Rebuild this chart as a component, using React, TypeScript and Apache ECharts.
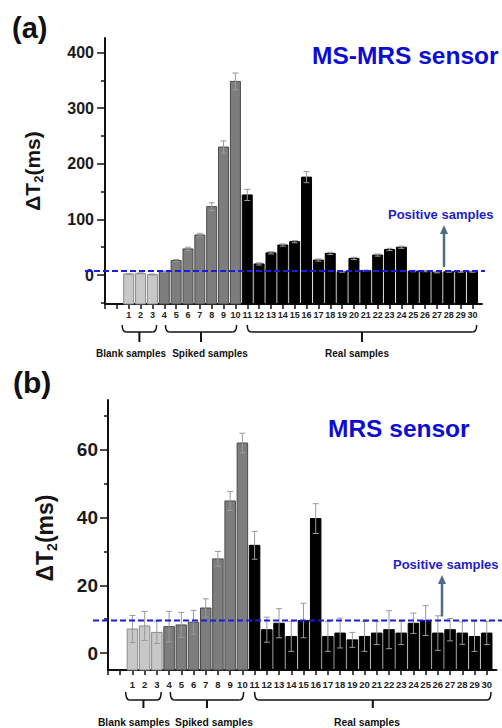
import React, { useEffect, useRef } from 'react';
import * as echarts from 'echarts';

// ---------- data ----------
const sampleLabels = ['1','2','3','4','5','6','7','8','9','10','11','12','13','14','15','16','17','18','19','20','21','22','23','24','25','26','27','28','29','30'];
const groupNames = ['Blank samples', 'Spiked samples', 'Real samples'];
const groupOf = [0,0,0,1,1,1,1,1,1,1,2,2,2,2,2,2,2,2,2,2,2,2,2,2,2,2,2,2,2,2];

// (a) MS-MRS sensor
const topValues = [2,3,1,6,26,47,72,123,230,348,144,20,40,54,60,176,27,39,6,30,8,36,46,50,7,7,5,6,6,6];
const topErrors = [1,1,1,1,2,3,3,7,11,15,10,2,2,2,2,10,2,2,1,2,1,2,2,2,1,1,1,1,1,1];
const topThreshold = 7.5;
const topYLabels = [0,100,200,300,400];
const topYMinor = [-50,50,150,250,350];

// (b) MRS sensor
const bottomValues = [7.1,8.0,6.1,7.8,8.3,9.1,13.3,27.8,44.9,62,31.8,6.9,8.8,4.9,9.6,39.7,4.9,5.9,3.9,4.9,5.9,6.9,5.9,8.8,9.6,5.9,6.9,5.9,4.9,5.9];
const bottomErrors = [4,4.3,3.3,4.5,3.7,3.5,2.7,2.2,2.8,2.9,4.1,3.7,4.3,4.4,5.1,4.4,4.4,4.4,2.2,4.4,3.4,5.6,3.4,3,4.4,5.1,3.3,3.3,4.4,3.4];
const bottomThreshold = 9.6;
const bottomYLabels = [0,20,40,60];
const bottomYMinor = [10,30,50,70];

const xTicks = [-1,0,1,2,3,4,5,6,7,8,9,10,11,12,13,14,15,16,17,18,19,20,21,22,23,24,25,26,27,28,29,30];
const xLabelValues = [1,2,3,4,5,6,7,8,9,10,11,12,13,14,15,16,17,18,19,20,21,22,23,24,25,26,27,28,29,30];

// ---------- styles ----------
const FONT = '"Liberation Sans", Arial, Helvetica, sans-serif';
const barStyles = [
  { fill: '#c8c8c8', stroke: '#8a8a8a' },
  { fill: '#7d7d7d', stroke: '#4a4a4a' },
  { fill: '#000000', stroke: '#000000' },
];
const ERR = '#9a9a9a';
const BLUE = '#1c1ce0';
const ARROW = '#4d6c8c';

const bracketSpans: [number, number][] = [[0.45, 3.35], [4.1, 10.1], [11, 30.35]];

function measure(text: string, size: number) {
  const c = document.createElement('canvas').getContext('2d')!;
  c.font = `bold ${size}px ${FONT}`;
  return c.measureText(text).width;
}

function makeRender(yMin: number, w: number) {
  return (params: any, api: any) => {
    const x = api.value(0);
    const v = api.value(1);
    const e = api.value(2);
    const g = api.value(3);
    const top = api.coord([x, v]);
    const base = api.coord([x, yMin]);
    const hi = api.coord([x, v + e]);
    const lo = api.coord([x, v - e]);
    const st = barStyles[g];
    const cap = 3;
    const ls = { stroke: ERR, lineWidth: 1 };
    return {
      type: 'group',
      children: [
        { type: 'rect', shape: { x: top[0] - w / 2, y: top[1], width: w, height: base[1] - top[1] }, style: { fill: st.fill, stroke: st.stroke, lineWidth: 1 } },
        { type: 'line', shape: { x1: top[0], y1: hi[1], x2: top[0], y2: lo[1] }, style: ls },
        { type: 'line', shape: { x1: top[0] - cap, y1: hi[1], x2: top[0] + cap, y2: hi[1] }, style: ls },
        { type: 'line', shape: { x1: top[0] - cap, y1: lo[1], x2: top[0] + cap, y2: lo[1] }, style: ls },
      ],
    };
  };
}

function yName(cx: number, cy: number, fs: number, sub: number) {
  const w1 = measure('ΔT', fs);
  const w2 = measure('2', sub);
  const w3 = measure('(ms)', fs);
  const total = w1 + w2 + w3;
  const base = { fontFamily: FONT, fontWeight: 'bold', fill: '#151515', verticalAlign: 'middle', align: 'left' };
  return {
    type: 'group', x: cx, y: cy + total / 2, rotation: Math.PI / 2, z: 100,
    children: [
      { type: 'text', x: 0, y: 0, style: { ...base, text: 'ΔT', fontSize: fs } },
      { type: 'text', x: w1, y: fs * 0.3, style: { ...base, text: '2', fontSize: sub } },
      { type: 'text', x: w1 + w2, y: 0, style: { ...base, text: '(ms)', fontSize: fs } },
    ],
  };
}

function txt(x: number, y: number, text: string, size: number, color: string, align = 'left') {
  return { type: 'text', x, y, z: 100, style: { text, fontSize: size, fontWeight: 'bold', fontFamily: FONT, fill: color, align, verticalAlign: 'middle' } };
}

function bracket(x1: number, x2: number, yTop: number, yMid: number, yBot: number) {
  const r = 4;
  const xc = (x1 + x2) / 2;
  const ls = { stroke: '#111', lineWidth: 1.5, fill: 'none' };
  return [
    { type: 'bezierCurve', z: 100, shape: { x1: x1, y1: yTop, cpx1: x1, cpy1: yMid, x2: x1 + r, y2: yMid }, style: ls },
    { type: 'line', z: 100, shape: { x1: x1 + r, y1: yMid, x2: x2 - r, y2: yMid }, style: ls },
    { type: 'bezierCurve', z: 100, shape: { x1: x2 - r, y1: yMid, cpx1: x2, cpy1: yMid, x2: x2, y2: yTop }, style: ls },
    { type: 'line', z: 100, shape: { x1: xc, y1: yMid, x2: xc, y2: yBot }, style: { stroke: '#111', lineWidth: 2 } },
  ];
}

function arrow(x: number, yBase: number, yTip: number) {
  return [
    { type: 'line', z: 100, shape: { x1: x, y1: yBase, x2: x, y2: yTip + 7 }, style: { stroke: ARROW, lineWidth: 2.5 } },
    { type: 'polygon', z: 100, shape: { points: [[x - 4, yTip + 9], [x + 4, yTip + 9], [x, yTip]] }, style: { fill: ARROW } },
  ];
}

export default function App() {
  const ref = useRef<HTMLDivElement>(null);
  useEffect(() => {
    const chart = echarts.init(ref.current!, null, { renderer: 'svg' });
    const topMin = -52, topMax = 426, botMin = -5, botMax = 74.7;

    const xAxis = (gi: number, fs: number, margin: number) => ({
      type: 'value', gridIndex: gi, min: -1, max: 30.8,
      axisLine: { onZero: false, lineStyle: { color: '#111', width: 2 } },
      axisTick: { customValues: xTicks, length: 5, lineStyle: { color: '#111', width: 1.5 } },
      axisLabel: { customValues: xLabelValues, formatter: (v: number) => sampleLabels[v - 1] || '', fontSize: fs, fontWeight: 'bold', fontFamily: FONT, color: '#222', margin },
      splitLine: { show: false },
    });
    const yMain = (gi: number, min: number, max: number, labels: number[], fs: number, margin: number) => ({
      type: 'value', gridIndex: gi, min, max, position: 'left',
      axisLine: { show: true, onZero: false, lineStyle: { color: '#111', width: 2 } },
      axisTick: { show: true, customValues: labels, length: 8, lineStyle: { color: '#111', width: 1.5 } },
      axisLabel: { customValues: labels, fontSize: fs, fontWeight: 'bold', fontFamily: FONT, color: '#1a1a1a', margin },
      splitLine: { show: false },
    });
    const yMinor = (gi: number, min: number, max: number, ticks: number[]) => ({
      type: 'value', gridIndex: gi, min, max, position: 'left', offset: 0,
      axisLine: { show: false, onZero: false },
      axisTick: { show: true, customValues: ticks, length: 4, lineStyle: { color: '#111', width: 1.5 } },
      axisLabel: { show: false },
      splitLine: { show: false },
    });

    chart.setOption({
      animation: false,
      backgroundColor: '#ffffff',
      grid: [
        { left: 105, top: 38, width: 377, height: 266 },
        { left: 108, top: 400, width: 388.5, height: 270 },
      ],
      xAxis: [xAxis(0, 9, 6), xAxis(1, 9.5, 9)],
      yAxis: [
        yMain(0, topMin, topMax, topYLabels, 16, 11),
        yMinor(0, topMin, topMax, topYMinor),
        yMain(1, botMin, botMax, bottomYLabels, 19, 10),
        yMinor(1, botMin, botMax, bottomYMinor),
      ],
      series: [
        {
          type: 'custom', xAxisIndex: 0, yAxisIndex: 0, clip: false,
          encode: { x: 0, y: 1 },
          data: topValues.map((v, k) => [Number(sampleLabels[k]), v, topErrors[k], groupOf[k]]),
          renderItem: makeRender(topMin, 10),
        },
        {
          type: 'custom', xAxisIndex: 1, yAxisIndex: 2, clip: false,
          encode: { x: 0, y: 1 },
          data: bottomValues.map((v, k) => [Number(sampleLabels[k]), v, bottomErrors[k], groupOf[k]]),
          renderItem: makeRender(botMin, 10.5),
        },
      ],
    });

    const pTop = (x: number, y: number) => chart.convertToPixel({ xAxisIndex: 0, yAxisIndex: 0 }, [x, y]) as number[];
    const pBot = (x: number, y: number) => chart.convertToPixel({ xAxisIndex: 1, yAxisIndex: 2 }, [x, y]) as number[];
    const tY = pTop(0, topThreshold)[1];
    const bY = pBot(0, bottomThreshold)[1];

    const elements: any[] = [
      txt(12, 28, '(a)', 29, '#111'),
      txt(13, 382, '(b)', 30, '#111'),
      txt(312, 55, 'MS-MRS sensor', 24.5, '#0c0cd4'),
      txt(328, 428, 'MRS sensor', 24.5, '#0c0cd4'),
      txt(388, 214, 'Positive samples', 13, '#1e1ec4'),
      txt(393, 564, 'Positive samples', 13, '#1e1ec4'),
      yName(32, 171, 21, 13),
      yName(45, 538, 23, 14),
      { type: 'line', z: 100, shape: { x1: 85, y1: tY, x2: 485, y2: tY }, style: { stroke: BLUE, lineWidth: 2, lineDash: [6, 3] } },
      { type: 'line', z: 100, shape: { x1: 93, y1: bY, x2: 502, y2: bY }, style: { stroke: BLUE, lineWidth: 2, lineDash: [6, 3] } },
      ...arrow(444, tY - 4, 225),
      ...arrow(442, bY - 4, 575),
      txt(131, 353, groupNames[0], 10, '#111', 'center'),
      txt(210, 353, groupNames[1], 10, '#111', 'center'),
      txt(357, 353, groupNames[2], 10, '#111', 'center'),
      txt(134, 722, groupNames[0], 10.3, '#111', 'center'),
      txt(214, 722, groupNames[1], 10.3, '#111', 'center'),
      txt(367, 722, groupNames[2], 10.3, '#111', 'center'),
    ];
    bracketSpans.forEach(([a, b]) => {
      elements.push(...bracket(pTop(a, 0)[0], pTop(b, 0)[0], 325, 332, 342));
      elements.push(...bracket(pBot(a, 0)[0], pBot(b, 0)[0], 692, 700, 708));
    });
    chart.setOption({ graphic: { elements } });

    return () => chart.dispose();
  }, []);
  return <div ref={ref} style={{ position: 'absolute', left: 0, top: 0, width: 502, height: 728 }} />;
}
